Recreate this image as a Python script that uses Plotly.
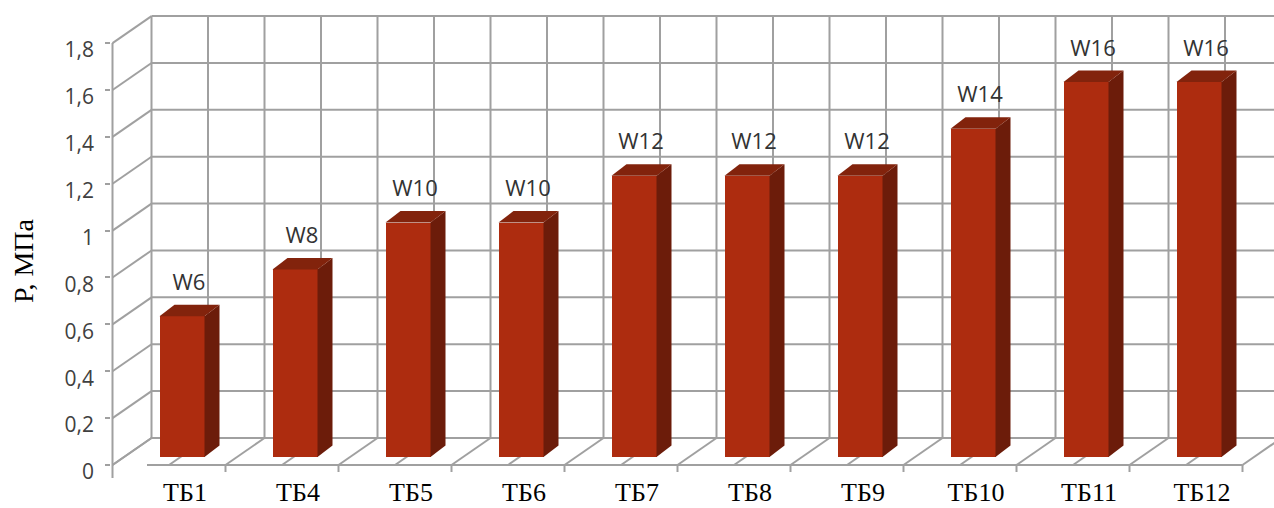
import plotly.graph_objects as go

# ---- data -------------------------------------------------------------
categories = ["ТБ1", "ТБ4", "ТБ5", "ТБ6", "ТБ7", "ТБ8", "ТБ9", "ТБ10", "ТБ11", "ТБ12"]
pressure = [0.6, 0.8, 1.0, 1.0, 1.2, 1.2, 1.2, 1.4, 1.6, 1.6]
grades = ["W6", "W8", "W10", "W10", "W12", "W12", "W12", "W14", "W16", "W16"]
y_ticks = [0, 0.2, 0.4, 0.6, 0.8, 1, 1.2, 1.4, 1.6, 1.8]
y_title = "P, МПа"

# ---- canvas and pseudo-3D projection ----------------------------------
W, H = 1274, 508
ML, MR, MT, MB = 111, 0, 14, 30
PX_CAT = 113.0           # pixels per category step
PX_UNIT = 234.4          # pixels per MPa
CAT0_PX = 169.0          # front-plane centre of the first category
ZERO_PX = 465.0          # front-plane y of value 0

x_lo = (ML - CAT0_PX) / PX_CAT
x_hi = x_lo + (W - ML - MR) / PX_CAT
y_lo = -(H - MB - ZERO_PX) / PX_UNIT
y_hi = y_lo + (H - MT - MB) / PX_UNIT

# depth of the chart box (oblique offset of the back wall)
DX, DY = 39 / PX_CAT, 27 / PX_UNIT
# bar placement inside the box
BAR_FX, BAR_FY = 13 / PX_CAT, 8 / PX_UNIT      # front face shift
BAR_HALF = 22.5 / PX_CAT                       # half width of front face
BAR_DX, BAR_DY = 15 / PX_CAT, 11.5 / PX_UNIT   # bar depth
LABEL_DX, LABEL_DY = 20 / PX_CAT, 0.17
TICK_LABEL_SHIFT = 7 / PX_UNIT
FLOOR_START = (147 - CAT0_PX) / PX_CAT

GRID = "#a0a0a0"
FRONT = "#ad2c0f"
TOP = "#82230c"
SIDE = "#6c1c0a"

n = len(categories)
idx = list(range(n))
y_max = y_ticks[-1]

shapes = []


def seg(x0, y0, x1, y1):
    shapes.append(dict(type="line", xref="x", yref="y", x0=x0, y0=y0, x1=x1, y1=y1,
                       line=dict(color=GRID, width=2), layer="below"))


left_edge = -0.5
half_steps = [left_edge + 0.5 * k for k in range(2 * n + 1)]

# back wall
for v in y_ticks:
    seg(left_edge + DX, v + DY, x_hi, v + DY)
for xb in half_steps:
    seg(xb + DX, DY, xb + DX, y_max + DY)
# left wall
for v in y_ticks:
    seg(left_edge, v, left_edge + DX, v + DY)
# floor
for xb in half_steps:
    seg(xb, 0, xb + DX, DY)
seg(FLOOR_START, 0, n - 0.5, 0)
# category boundary ticks
for k in idx:
    seg(k + 0.5, 0, k + 0.5, -7 / PX_UNIT)
# value axis line
seg(left_edge, y_lo, left_edge, y_max)

fig = go.Figure()

# front faces of the columns
fig.add_trace(go.Bar(
    x=idx, y=pressure, base=BAR_FY,
    offset=BAR_FX - BAR_HALF, width=2 * BAR_HALF,
    marker=dict(color=FRONT, line=dict(width=0)),
    hoverinfo="skip", showlegend=False,
))

# top and side faces
for i, v in zip(idx, pressure):
    xl = i + BAR_FX - BAR_HALF
    xr = i + BAR_FX + BAR_HALF
    b = BAR_FY
    t = BAR_FY + v
    fig.add_trace(go.Scatter(
        x=[xr, xr + BAR_DX, xr + BAR_DX, xr, xr],
        y=[b, b + BAR_DY, t + BAR_DY, t, b],
        fill="toself", fillcolor=SIDE, mode="lines", line=dict(width=0, color=SIDE),
        hoverinfo="skip", showlegend=False,
    ))
    fig.add_trace(go.Scatter(
        x=[xl, xl + BAR_DX, xr + BAR_DX, xr, xl],
        y=[t, t + BAR_DY, t + BAR_DY, t, t],
        fill="toself", fillcolor=TOP, mode="lines", line=dict(width=0, color=TOP),
        hoverinfo="skip", showlegend=False,
    ))

# grade labels above the columns
fig.add_trace(go.Scatter(
    x=[i + LABEL_DX for i in idx],
    y=[v + LABEL_DY for v in pressure],
    mode="text", text=grades, textposition="middle center",
    textfont=dict(family="Open Sans", size=22, color="#333333"),
    cliponaxis=False, hoverinfo="skip", showlegend=False,
))

# carrier for the value-label axis
fig.add_trace(go.Scatter(x=[None], y=[None], yaxis="y2", mode="markers",
                         hoverinfo="skip", showlegend=False))

fig.update_layout(
    width=W, height=H,
    margin=dict(l=ML, r=MR, t=MT, b=MB, pad=0),
    paper_bgcolor="white", plot_bgcolor="white",
    separators=", ",
    showlegend=False,
    bargap=0,
    shapes=shapes,
    xaxis=dict(
        range=[x_lo, x_hi], fixedrange=True, automargin=False,
        showgrid=False, zeroline=False, showline=False,
        tickmode="array", tickvals=[i + BAR_FX + 3 / PX_CAT for i in idx], ticktext=categories,
        ticks="", ticklabelstandoff=-4,
        tickfont=dict(family="Liberation Serif", size=26, color="black"),
    ),
    yaxis=dict(
        range=[y_lo, y_hi], fixedrange=True, automargin=False,
        showgrid=False, zeroline=False, showline=False,
        tickmode="array", tickvals=y_ticks,
        ticks="outside", ticklen=5, tickwidth=2, tickcolor=GRID,
        showticklabels=False,
    ),
    yaxis2=dict(
        overlaying="y", side="left", anchor="x",
        range=[y_lo + TICK_LABEL_SHIFT, y_hi + TICK_LABEL_SHIFT],
        fixedrange=True, automargin=False,
        showgrid=False, zeroline=False, showline=False,
        tickmode="array", tickvals=y_ticks, ticks="",
        ticklabelstandoff=16,
        tickfont=dict(family="Open Sans", size=21, color="#404040"),
    ),
    annotations=[dict(
        text=y_title, textangle=-90, showarrow=False,
        xref="paper", x=(23 - ML) / (W - ML - MR), xanchor="center",
        yref="y", y=(ZERO_PX - 261) / PX_UNIT, yanchor="middle",
        font=dict(family="Liberation Serif", size=28, color="black"),
    )],
)

fig.write_html("out.html")
